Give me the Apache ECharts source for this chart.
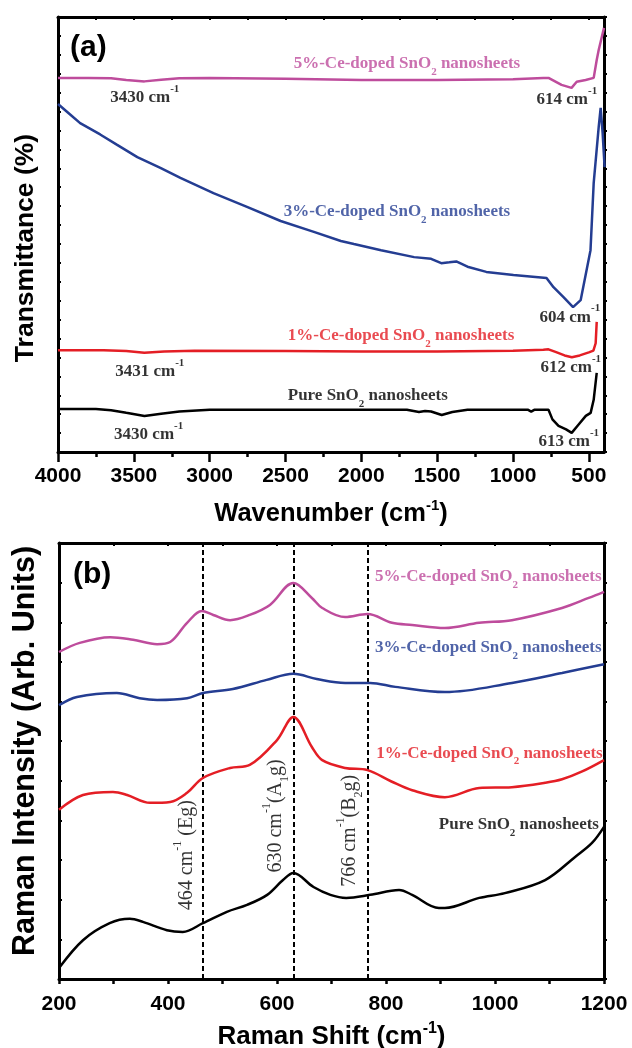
<!DOCTYPE html>
<html>
<head>
<meta charset="utf-8">
<script src="https://cdn.jsdelivr.net/npm/echarts@6/dist/echarts.min.js"></script>
<style>
  html, body { margin: 0; padding: 0; background: #fff; }
  #chart { width: 632px; height: 1048px; }
</style>
</head>
<body>
<div id="chart"></div>
<script>
// ---------- (a) FTIR spectra: wavenumber (cm-1) vs. transmittance (offset, a.u.) ----------
const ftir5Wn  = [4000, 3800, 3650, 3550, 3430, 3320, 3200, 3000, 2500, 2000, 1500, 1000, 800, 766, 680, 614, 580, 521, 468, 448, 435, 400];
const ftir5T   = [86.0, 86.0, 85.9, 85.5, 85.2, 85.6, 85.9, 86.0, 85.8, 85.5, 85.5, 85.7, 86.0, 86.0, 84.4, 83.7, 85.1, 85.5, 86.0, 90.1, 92.4, 97.5];

const ftir3Wn  = [4000, 3920, 3854, 3722, 3610, 3477, 3325, 3193, 2975, 2750, 2532, 2313, 2135, 2049, 1870, 1652, 1540, 1473, 1420, 1374, 1300, 1176, 997, 779, 733, 667, 604, 554, 489, 468, 435, 422, 409, 396];
const ftir3T   = [80.0, 77.6, 75.6, 73.0, 70.6, 67.8, 65.3, 63.0, 59.5, 56.3, 53.1, 50.6, 48.5, 47.8, 46.4, 44.8, 44.4, 43.4, 43.6, 43.8, 42.6, 41.4, 40.7, 40.0, 37.9, 35.6, 33.3, 34.9, 46.4, 61.8, 74.7, 79.1, 73.3, 65.5];

const ftir1Wn  = [4000, 3700, 3550, 3431, 3300, 3100, 2500, 2000, 1500, 1000, 800, 766, 720, 660, 612, 560, 500, 470, 455, 448];
const ftir1T   = [23.4, 23.4, 23.2, 22.8, 23.1, 23.3, 23.2, 23.1, 23.1, 23.3, 23.5, 23.6, 23.0, 22.2, 21.8, 22.2, 22.9, 23.3, 25.0, 29.9];

const ftir0Wn  = [4000, 3750, 3650, 3550, 3430, 3320, 3200, 3000, 2500, 2000, 1700, 1620, 1580, 1540, 1470, 1400, 1300, 1000, 900, 880, 860, 766, 740, 700, 650, 613, 570, 520, 488, 468, 448];
const ftir0T   = [9.9, 9.9, 9.6, 9.0, 8.3, 8.8, 9.3, 9.7, 9.7, 9.7, 9.7, 9.2, 9.4, 9.3, 8.5, 9.2, 9.7, 9.7, 9.7, 9.3, 9.7, 9.7, 7.5, 6.0, 5.2, 4.4, 6.2, 8.3, 9.0, 12.0, 18.2];

const wnMajorTicks = [500, 1000, 1500, 2000, 2500, 3000, 3500, 4000];
const wnMinorTicks = [750, 1250, 1750, 2250, 2750, 3250, 3750];

// ---------- (b) Raman spectra: Raman shift (cm-1) vs. intensity (offset, a.u.) ----------
const raman5Shift = [200, 238, 294, 336, 380, 404, 435, 462, 483, 514, 550, 587, 630, 664, 683, 725, 766, 811, 848, 908, 971, 1031, 1123, 1172, 1200];
const raman5I     = [75.0, 77.1, 78.4, 77.8, 76.8, 77.3, 81.7, 84.4, 83.5, 82.3, 83.5, 85.8, 90.8, 87.4, 85.1, 83.0, 83.7, 81.7, 81.2, 80.5, 81.7, 82.3, 85.1, 87.4, 88.8];

const raman3Shift = [200, 233, 306, 348, 380, 435, 464, 519, 581, 630, 673, 725, 771, 817, 908, 1031, 1123, 1200];
const raman3I     = [62.8, 64.7, 65.6, 64.4, 64.0, 64.4, 65.6, 66.5, 68.6, 70.0, 68.8, 67.9, 67.9, 67.0, 65.8, 67.9, 70.2, 72.2];

const raman1Shift = [200, 244, 299, 325, 367, 404, 435, 464, 514, 550, 600, 630, 664, 683, 725, 766, 810, 848, 908, 971, 1031, 1092, 1123, 1160, 1200];
const raman1I     = [38.8, 42.2, 42.9, 42.2, 40.4, 40.6, 42.7, 46.1, 48.4, 49.1, 54.8, 60.1, 53.2, 50.2, 48.4, 47.9, 45.3, 43.3, 41.7, 43.8, 44.0, 45.0, 45.8, 47.6, 50.2];

const raman0Shift = [200, 244, 293, 330, 354, 398, 427, 464, 508, 545, 582, 611, 630, 667, 698, 727, 771, 824, 848, 897, 908, 971, 1018, 1092, 1147, 1178, 1200];
const raman0I     = [2.5, 8.9, 12.8, 13.8, 13.1, 11.2, 10.8, 12.8, 15.4, 17.0, 19.3, 22.7, 24.3, 21.1, 19.3, 18.6, 19.3, 20.4, 19.3, 16.3, 16.3, 18.6, 19.7, 22.7, 28.0, 31.2, 34.9];

const ramanModes = [464, 630, 766];

// ---------- styling ----------
const MAGENTA = '#BE4C9C';
const BLUE = '#243D92';
const RED = '#E41E25';
const BLACK = '#000000';
const SANS = 'Liberation Sans, Arial, sans-serif';
const SERIF = 'Liberation Serif, Times New Roman, serif';

const zip = (xs, ys) => xs.map((x, i) => [x, ys[i]]);

// text annotations, anchored in data coordinates (left edge, vertical middle)
const notesA = [
  { at: [2446, 89.2], text: '5%-Ce-doped SnO{sub|2} nanosheets', color: MAGENTA },
  { at: [3656, 81.4], text: '3430 cm{sup|-1}', color: BLACK },
  { at: [845, 80.9],  text: '614 cm{sup|-1}', color: BLACK },
  { at: [2512, 55.2], text: '3%-Ce-doped SnO{sub|2} nanosheets', color: BLUE },
  { at: [825, 31.0],  text: '604 cm{sup|-1}', color: BLACK },
  { at: [2485, 26.7], text: '1%-Ce-doped SnO{sub|2} nanosheets', color: RED },
  { at: [819, 19.5],  text: '612 cm{sup|-1}', color: BLACK },
  { at: [3623, 18.4], text: '3431 cm{sup|-1}', color: BLACK },
  { at: [2485, 12.9], text: 'Pure SnO{sub|2} nanosheets', color: BLACK },
  { at: [3630, 3.9],  text: '3430 cm{sup|-1}', color: BLACK },
  { at: [832, 2.3],   text: '613 cm{sup|-1}', color: BLACK }
];
const notesB = [
  { at: [780, 92.2], text: '5%-Ce-doped SnO{sub|2} nanosheets', color: MAGENTA },
  { at: [780, 75.9], text: '3%-Ce-doped SnO{sub|2} nanosheets', color: BLUE },
  { at: [782, 51.8], text: '1%-Ce-doped SnO{sub|2} nanosheets', color: RED },
  { at: [897, 35.3], text: 'Pure SnO{sub|2} nanosheets', color: BLACK }
];
// vertical mode labels, anchored at their centre
const modeNotes = [
  { at: [435, 28.4], text: '464 cm{sup|-1} (Eg)' },
  { at: [597, 37.4], text: '630 cm{sup|-1}(A{sub|1}g)' },
  { at: [733, 34.0], text: '766 cm{sup|-1}(B{sub|2}g)' }
];

const noteRich = (size, weight) => ({
  sub: { fontFamily: SERIF, fontWeight: weight, fontSize: Math.round(size * 0.62), lineHeight: Math.round(size * 0.62), verticalAlign: 'bottom' },
  sup: { fontFamily: SERIF, fontWeight: weight, fontSize: Math.round(size * 0.62), lineHeight: Math.round(size * 0.62), verticalAlign: 'top' }
});

function noteSeries(notes, xIdx, yIdx, opts) {
  return {
    type: 'scatter',
    xAxisIndex: xIdx,
    yAxisIndex: yIdx,
    symbolSize: 0,
    silent: true,
    z: 10,
    data: notes.map(n => ({
      value: n.at,
      text: n.text,
      label: { color: n.color || BLACK }
    })),
    label: {
      show: true,
      position: [0, 0],
      align: opts.align,
      verticalAlign: 'middle',
      rotate: opts.rotate || 0,
      fontFamily: SERIF,
      fontWeight: opts.weight,
      fontSize: opts.size,
      lineHeight: opts.lineHeight,
      formatter: p => p.data.text,
      rich: noteRich(opts.size, opts.weight)
    }
  };
}

function lineSeries(name, xs, ys, color, xIdx, yIdx, smooth) {
  return {
    name: name,
    type: 'line',
    xAxisIndex: xIdx,
    yAxisIndex: yIdx,
    data: zip(xs, ys),
    showSymbol: false,
    smooth: smooth,
    silent: true,
    lineStyle: { color: color, width: 2.5 },
    z: 5
  };
}

const axisLine = { show: true, onZero: false, lineStyle: { color: '#000', width: 3 } };
const tickLabel = { fontFamily: SANS, fontWeight: 'bold', fontSize: 21, color: '#000', formatter: v => String(v) };

const chart = echarts.init(document.getElementById('chart'), null, { renderer: 'canvas' });

chart.setOption({
  backgroundColor: '#ffffff',
  animation: false,
  grid: [
    { left: 58, right: 28, top: 17, height: 435, outerBoundsMode: 'none' },
    { left: 59, right: 28, top: 543, height: 436, outerBoundsMode: 'none' }
  ],
  xAxis: [
    // (a) bottom: major ticks + labels
    {
      gridIndex: 0, type: 'value', position: 'bottom', min: 400, max: 4000, inverse: true,
      axisLine: axisLine,
      axisTick: { show: true, inside: false, length: 10, lineStyle: { width: 2.5, color: '#000' }, customValues: wnMajorTicks },
      axisLabel: Object.assign({ margin: 14, customValues: wnMajorTicks }, tickLabel),
      splitLine: { show: false },
      name: 'Wavenumber (cm{sup|-1})', nameLocation: 'middle', nameGap: 46,
      nameTextStyle: {
        fontFamily: SANS, fontWeight: 'bold', fontSize: 25.5, color: '#000', lineHeight: 32,
        rich: { sup: { fontFamily: SANS, fontWeight: 'bold', fontSize: 15, lineHeight: 15, verticalAlign: 'top' } }
      }
    },
    // (a) bottom: minor ticks
    {
      gridIndex: 0, type: 'value', position: 'bottom', min: 400, max: 4000, inverse: true,
      axisLine: { show: false },
      axisTick: { show: true, inside: false, length: 5, lineStyle: { width: 2.5, color: '#000' }, customValues: wnMinorTicks },
      axisLabel: { show: false }, splitLine: { show: false }
    },
    // (a) top frame
    {
      gridIndex: 0, type: 'value', position: 'top', min: 400, max: 4000, inverse: true,
      axisLine: axisLine,
      axisTick: { show: true, inside: true, length: 3, lineStyle: { width: 2, color: '#000' }, customValues: wnMajorTicks.concat(wnMinorTicks) },
      axisLabel: { show: false }, splitLine: { show: false }
    },
    // (b) bottom
    {
      gridIndex: 1, type: 'value', position: 'bottom', min: 200, max: 1200, interval: 200,
      axisLine: axisLine,
      axisTick: { show: true, inside: false, length: 5, lineStyle: { width: 2.5, color: '#000' } },
      minorTick: { show: true, splitNumber: 2, length: 5, lineStyle: { width: 2.5, color: '#000' } },
      axisLabel: Object.assign({ margin: 15 }, tickLabel),
      splitLine: { show: false }, minorSplitLine: { show: false },
      name: 'Raman Shift (cm{sup|-1})', nameLocation: 'middle', nameGap: 42,
      nameTextStyle: {
        fontFamily: SANS, fontWeight: 'bold', fontSize: 26, color: '#000', lineHeight: 32,
        rich: { sup: { fontFamily: SANS, fontWeight: 'bold', fontSize: 16, lineHeight: 16, verticalAlign: 'top' } }
      }
    },
    // (b) top frame
    {
      gridIndex: 1, type: 'value', position: 'top', min: 200, max: 1200, interval: 100,
      axisLine: axisLine,
      axisTick: { show: true, inside: true, length: 3, lineStyle: { width: 2, color: '#000' } },
      axisLabel: { show: false }, splitLine: { show: false }
    }
  ],
  yAxis: [
    {
      gridIndex: 0, type: 'value', position: 'left', min: 0, max: 100, interval: 100 / 23,
      axisLine: axisLine,
      axisTick: { show: true, inside: true, length: 3, lineStyle: { width: 2, color: '#000' } },
      axisLabel: { show: false }, splitLine: { show: false }
    },
    {
      gridIndex: 0, type: 'value', position: 'right', min: 0, max: 100, interval: 100 / 23,
      axisLine: axisLine,
      axisTick: { show: true, inside: false, length: 3, lineStyle: { width: 2, color: '#000' } },
      axisLabel: { show: false }, splitLine: { show: false }
    },
    {
      gridIndex: 1, type: 'value', position: 'left', min: 0, max: 100, interval: 100 / 11,
      axisLine: axisLine,
      axisTick: { show: true, inside: true, length: 3, lineStyle: { width: 2, color: '#000' } },
      axisLabel: { show: false }, splitLine: { show: false }
    },
    {
      gridIndex: 1, type: 'value', position: 'right', min: 0, max: 100, interval: 100 / 11,
      axisLine: axisLine,
      axisTick: { show: true, inside: false, length: 3, lineStyle: { width: 2, color: '#000' } },
      axisLabel: { show: false }, splitLine: { show: false }
    }
  ],
  graphic: [
    { type: 'text', left: 70, top: 33, style: { text: '(a)', fontFamily: SANS, fontWeight: 'bold', fontSize: 30, fill: '#000' } },
    { type: 'text', left: 73, top: 560, style: { text: '(b)', fontFamily: SANS, fontWeight: 'bold', fontSize: 30, fill: '#000' } },
    {
      type: 'text', x: 26, y: 248, rotation: Math.PI / 2,
      style: { text: 'Transmittance (%)', align: 'center', verticalAlign: 'middle', fontFamily: SANS, fontWeight: 'bold', fontSize: 26.5, fill: '#000' }
    },
    {
      type: 'text', x: 26, y: 751, rotation: Math.PI / 2,
      style: { text: 'Raman Intensity (Arb. Units)', align: 'center', verticalAlign: 'middle', fontFamily: SANS, fontWeight: 'bold', fontSize: 30.5, fill: '#000' }
    }
  ],
  series: [
    lineSeries('Pure SnO2 (FTIR)', ftir0Wn, ftir0T, BLACK, 0, 0, false),
    lineSeries('1% Ce (FTIR)', ftir1Wn, ftir1T, RED, 0, 0, false),
    lineSeries('3% Ce (FTIR)', ftir3Wn, ftir3T, BLUE, 0, 0, false),
    lineSeries('5% Ce (FTIR)', ftir5Wn, ftir5T, MAGENTA, 0, 0, false),
    Object.assign(lineSeries('Pure SnO2 (Raman)', raman0Shift, raman0I, BLACK, 3, 2, 0.35), {
      markLine: {
        silent: true,
        symbol: ['none', 'none'],
        label: { show: false },
        lineStyle: { color: '#000', width: 2, type: [5, 3] },
        data: ramanModes.map(v => ({ xAxis: v }))
      }
    }),
    lineSeries('1% Ce (Raman)', raman1Shift, raman1I, RED, 3, 2, 0.35),
    lineSeries('3% Ce (Raman)', raman3Shift, raman3I, BLUE, 3, 2, 0.35),
    lineSeries('5% Ce (Raman)', raman5Shift, raman5I, MAGENTA, 3, 2, 0.35),
    noteSeries(notesA, 0, 0, { align: 'left', size: 17, weight: 'bold', lineHeight: 28 }),
    noteSeries(notesB, 3, 2, { align: 'left', size: 17, weight: 'bold', lineHeight: 28 }),
    noteSeries(modeNotes, 3, 2, { align: 'center', size: 20, weight: 'normal', lineHeight: 30, rotate: 90 })
  ]
});
</script>
</body>
</html>
